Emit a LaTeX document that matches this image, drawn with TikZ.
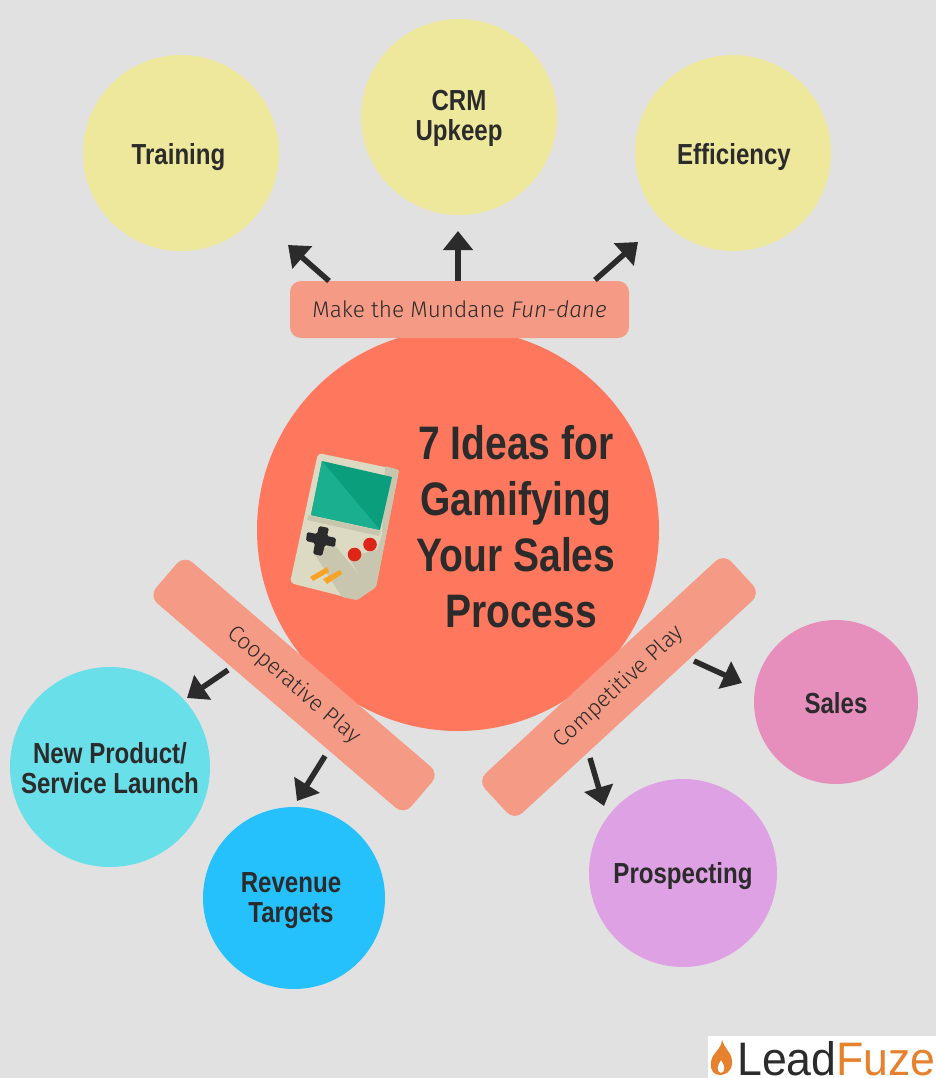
\documentclass[tikz,border=0pt]{standalone}
\usepackage{fontspec}
\setmainfont[FakeStretch=0.83]{Liberation Sans}
\newfontfamily\barfont{Fira Sans Light}
\newfontfamily\logofont[FakeStretch=0.95]{Liberation Sans}
\usetikzlibrary{arrows.meta}
\definecolor{bgcol}{HTML}{E1E1E1}
\definecolor{inkcol}{HTML}{2B2B2B}
\definecolor{barcol}{HTML}{F59A84}
\definecolor{hubcol}{HTML}{FF775C}
\definecolor{ylw}{HTML}{EDE89B}
\definecolor{cyn}{HTML}{69DFEA}
\definecolor{blu}{HTML}{25C1FC}
\definecolor{prp}{HTML}{DEA1E3}
\definecolor{pnk}{HTML}{E68EBC}
\definecolor{shellcol}{HTML}{DDDAC4}
\definecolor{shadecol}{HTML}{C9C6B0}
\definecolor{screenA}{HTML}{0A9E7D}
\definecolor{screenB}{HTML}{1AAF8E}
\definecolor{padcol}{HTML}{2B2B2E}
\definecolor{redbtn}{HTML}{DE2618}
\definecolor{orgbtn}{HTML}{F7A328}
\definecolor{logoorg}{HTML}{E6822D}
\tikzstyle{idea} = [circle, inner sep=0pt]
\tikzstyle{idealabel} = [text=inkcol, font=\bfseries\fontsize{29}{30}\selectfont, align=center]
\tikzstyle{bar} = [rounded corners=11pt, fill=barcol, inner sep=0pt, minimum height=54pt, text=inkcol, font=\barfont\fontsize{22.6}{28}\selectfont]
\tikzstyle{pointer} = [-{Triangle[width=29pt,length=19pt]}, line width=5.5pt, draw=inkcol]
\newcommand{\ideanode}[8]{\node (#1) [idea, fill=#2, minimum size=#3pt] at (#4,#5) {}; \node (#1txt) [idealabel] at (#6,#7) {#8};}
\begin{document}
\begin{tikzpicture}[x=1pt,y=-1pt]
	\fill[bgcol] (0,0) rectangle (936,1078);
	\useasboundingbox (0,0) rectangle (936,1078);
	% outer circles
	\ideanode{training}{ylw}{196}{181}{153}{178.5}{157}{Training}
	\ideanode{crm}{ylw}{196}{459}{117}{459}{118}{CRM\\Upkeep}
	\ideanode{efficiency}{ylw}{196}{733}{153}{734}{157}{Efficiency}
	\ideanode{launch}{cyn}{200}{110}{767}{110}{768}{New Product/\\Service Launch}
	\ideanode{revenue}{blu}{182}{294}{898}{291}{900.5}{Revenue\\Targets}
	\ideanode{prospecting}{prp}{188}{683}{873}{683}{876}{Prospecting}
	\ideanode{sales}{pnk}{164}{836}{702}{836}{703}{Sales}
	% hub
	\node (hub) [circle, fill=hubcol, minimum size=402pt, inner sep=0pt] at (458,530) {};
	\node (title) [text=inkcol, font=\bfseries\fontsize{47}{56}\selectfont, align=center] at (516,527) {7 Ideas for\\Gamifying\\Your Sales\\\hspace*{10pt}Process};
	% bars
	\node (mundane) [bar, minimum width=339pt, minimum height=57pt] at (459.5,309.5) {Make the Mundane \textit{Fun-dane}};
	\node (coop) [bar, minimum width=336pt, rotate=-40.6] at (294,685) {Cooperative Play};
	\node (comp) [bar, minimum width=335pt, rotate=42.7] at (619,687) {Competitive Play};
	% arrows
	\coordinate (mundaneL) at (329,281);
	\coordinate (mundaneM) at (458,281);
	\coordinate (mundaneR) at (595,280);
	\coordinate (coopL) at (228,670);
	\coordinate (coopR) at (325,756);
	\coordinate (compR) at (694,661);
	\coordinate (compL) at (590,758);
	\coordinate (trainingtip) at (288,245);
	\coordinate (crmtip) at (458,231);
	\coordinate (efficiencytip) at (638,242);
	\coordinate (launchtip) at (187,698);
	\coordinate (revenuetip) at (297,801);
	\coordinate (salestip) at (742,683);
	\coordinate (prospectingtip) at (604,806);
	\draw [pointer] (mundaneL) -- (trainingtip);
	\draw [pointer] (mundaneM) -- (crmtip);
	\draw [pointer] (mundaneR) -- (efficiencytip);
	\draw [pointer] (coopL) -- (launchtip);
	\draw [pointer] (coopR) -- (revenuetip);
	\draw [pointer] (compR) -- (salestip);
	\draw [pointer] (compL) -- (prospectingtip);
	% game console
	\fill[shellcol, rounded corners=4pt] (318,453) -- (399,470) -- (376,587) -- (357,600) -- (290,583) -- cycle;
	\fill[shadecol, rounded corners=1pt] (385,466) -- (399,470) -- (376,587) -- (357,600) -- (342,597) -- (315,555) -- (333,543) -- (361,577) -- (348,557) -- (377,550) -- (382,535) -- cycle;
	\fill[shadecol] (308,515) -- (381,531) -- (379,536) -- (307,520) -- cycle;
	\fill[screenA] (322,461) -- (392,477) -- (380,530) -- (311,515) -- cycle;
	\fill[screenB] (322,461) -- (380,530) -- (311,515) -- cycle;
	\fill[padcol, rounded corners=1.5pt] (319,526) -- (329,528) -- (327,536) -- (336,538) -- (335,547) -- (325,545) -- (322,556) -- (313,554) -- (315,543) -- (306,541) -- (307,532) -- (317,534) -- cycle;
	\fill[redbtn] (354.5,554.5) circle (6.8pt);
	\fill[redbtn] (370,544.5) circle (6.8pt);
	\fill[orgbtn] (327,567) -- (329,572) -- (313,581) -- (310,577) -- cycle;
	\fill[orgbtn] (340,570) -- (342,574) -- (327,584) -- (323,579) -- cycle;
	% logo
	\fill[white] (708,1036) rectangle (936,1078);
	\fill[logoorg, even odd rule] (722,1040) .. controls (725,1050) and (733,1053) .. (732,1064) .. controls (731,1072) and (725,1075) .. (720,1075) .. controls (714,1075) and (710,1071) .. (711,1062) .. controls (712,1053) and (721,1050) .. (722,1040) -- cycle (721,1060) .. controls (717,1065) and (716,1072) .. (721,1073) .. controls (726,1072) and (725,1065) .. (721,1060) -- cycle;
	\node (logo) [anchor=base west, inner sep=0pt, font=\logofont\fontsize{47}{50}\selectfont] at (737,1075) {\textcolor{inkcol}{Lead}\textcolor{logoorg}{Fuze}};
\end{tikzpicture}
\end{document}
